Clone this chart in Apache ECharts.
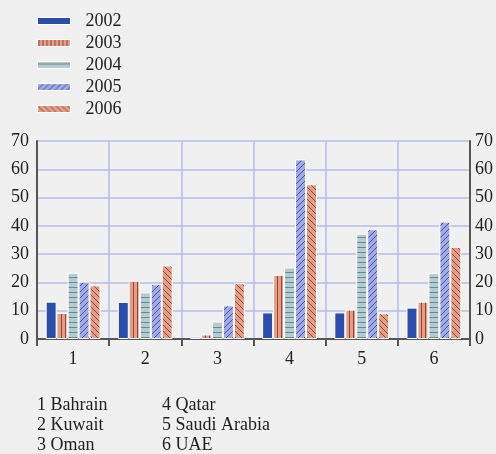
<!DOCTYPE html>
<html>
<head>
<meta charset="utf-8">
<script src="https://cdn.jsdelivr.net/npm/echarts@6/dist/echarts.min.js"></script>
<style>
  html, body { margin: 0; padding: 0; background: #f0f0f0; }
  #chart { width: 496px; height: 454px; }
</style>
</head>
<body>
<div id="chart"></div>
<script>
const categories = ['1', '2', '3', '4', '5', '6']
const countries = ['Bahrain', 'Kuwait', 'Oman', 'Qatar', 'Saudi Arabia', 'UAE']
const years = ['2002', '2003', '2004', '2005', '2006']
const v2002 = [13.2, 13.1, 0.8, 9.4, 9.4, 11.1]
const v2003 = [9.2, 20.6, 1.6, 22.7, 10.4, 13.2]
const v2004 = [23.4, 16.5, 6.1, 25.3, 37.2, 23.3]
const v2005 = [20.3, 19.4, 11.9, 63.5, 38.8, 41.5]
const v2006 = [19.0, 26.0, 19.7, 54.7, 9.1, 32.6]
const yTicks = [0, 10, 20, 30, 40, 50, 60, 70]

const font = '"Liberation Serif", "DejaVu Serif", serif'

// small repeating tiles for the hatched fills
function pattern(w, h, bg, fg, draw) {
  const c = document.createElement('canvas')
  c.width = w
  c.height = h
  const ctx = c.getContext('2d')
  ctx.fillStyle = bg
  ctx.fillRect(0, 0, w, h)
  ctx.strokeStyle = fg
  ctx.lineWidth = 1
  draw(ctx, w, h)
  return { image: c, repeat: 'repeat' }
}

const fills = [
  '#2c4ea8',
  pattern(4, 4, '#dca18c', '#b23c2c', (ctx) => {
    ctx.beginPath(); ctx.moveTo(1.5, 0); ctx.lineTo(1.5, 4); ctx.stroke()
  }),
  pattern(5, 5, '#b8cad0', '#5a8e98', (ctx) => {
    ctx.beginPath(); ctx.moveTo(0, 2.5); ctx.lineTo(5, 2.5); ctx.stroke()
  }),
  pattern(6, 6, '#a3aadd', '#3d51b8', (ctx) => {
    ctx.beginPath(); ctx.moveTo(0, 6); ctx.lineTo(6, 0); ctx.stroke()
    ctx.beginPath(); ctx.moveTo(-1, 1); ctx.lineTo(1, -1); ctx.stroke()
    ctx.beginPath(); ctx.moveTo(5, 7); ctx.lineTo(7, 5); ctx.stroke()
  }),
  pattern(6, 6, '#dca18c', '#b23c2c', (ctx) => {
    ctx.beginPath(); ctx.moveTo(0, 0); ctx.lineTo(6, 6); ctx.stroke()
    ctx.beginPath(); ctx.moveTo(5, -1); ctx.lineTo(7, 1); ctx.stroke()
    ctx.beginPath(); ctx.moveTo(-1, 5); ctx.lineTo(1, 7); ctx.stroke()
  }),
]
const values = [v2002, v2003, v2004, v2005, v2006]

const yAxisBase = {
  type: 'value',
  min: yTicks[0],
  max: yTicks[yTicks.length - 1],
  interval: 10,
  axisLine: { show: true, lineStyle: { color: '#555', width: 2 } },
  axisTick: { show: false },
}

const noteLeft = countries.slice(0, 3).map((c, i) => categories[i] + ' ' + c).join('\n')
const noteRight = countries.slice(3).map((c, i) => categories[i + 3] + ' ' + c).join('\n')

const chart = echarts.init(document.getElementById('chart'))
chart.setOption({
  backgroundColor: '#f0f0f0',
  animation: false,
  legend: {
    orient: 'vertical',
    left: 37,
    top: 12,
    padding: 0,
    itemWidth: 33,
    itemHeight: 7,
    itemGap: 4,
    icon: 'rect',
    itemStyle: { borderColor: '#fff', borderWidth: 1 },
    textStyle: { fontFamily: font, fontSize: 18, color: '#222', padding: [0, 0, 0, 10] },
    data: years,
  },
  grid: { left: 37, right: 25, top: 141, bottom: 115 },
  xAxis: {
    type: 'category',
    data: categories,
    axisLine: { lineStyle: { color: '#555', width: 2 } },
    axisTick: { show: true, length: 7, lineStyle: { color: '#555', width: 2 } },
    axisLabel: { color: '#222', fontFamily: font, fontSize: 18, margin: 11 },
    splitLine: { show: true, lineStyle: { color: '#b9bde8', width: 1.5 } },
  },
  yAxis: [
    Object.assign({}, yAxisBase, {
      position: 'left',
      axisLabel: { color: '#222', fontFamily: font, fontSize: 18, margin: 8 },
      splitLine: { show: true, lineStyle: { color: '#b9bde8', width: 1.5 } },
    }),
    Object.assign({}, yAxisBase, {
      position: 'right',
      axisLabel: { color: '#222', fontFamily: font, fontSize: 18, margin: 5 },
      splitLine: { show: false },
    }),
  ],
  series: years.map((y, i) => ({
    name: y,
    type: 'bar',
    data: values[i],
    barGap: '0%',
    barCategoryGap: '24%',
    itemStyle: { color: fills[i], borderColor: '#fff', borderWidth: 1 },
  })),
  graphic: [
    {
      type: 'text', left: 37, top: 395,
      style: { text: noteLeft, font: '18px ' + font, fill: '#222', lineHeight: 20 },
    },
    {
      type: 'text', left: 162, top: 395,
      style: { text: noteRight, font: '18px ' + font, fill: '#222', lineHeight: 20 },
    },
  ],
})
</script>
</body>
</html>
